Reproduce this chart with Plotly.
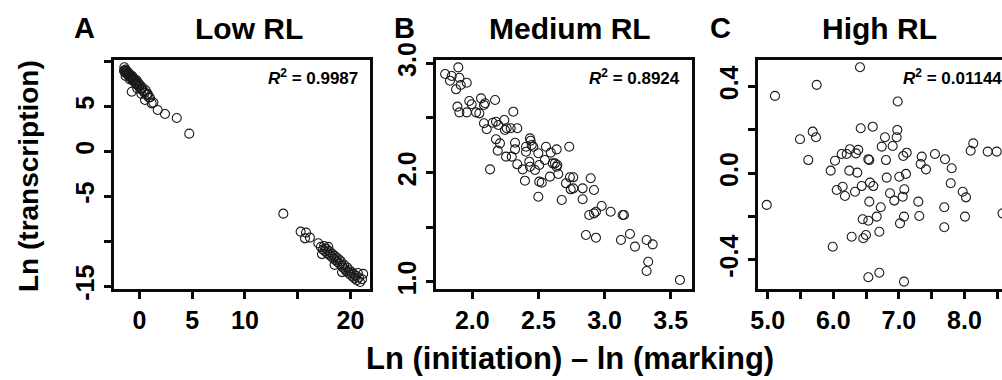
import plotly.graph_objects as go

# ---------------- data ----------------
a_x = [-1.42, -1.45, -1.40, -1.35, -1.30, -1.25, -1.20, -1.15, -1.10, -1.05, -1.00, -0.95, -0.90, -0.85,
       -0.80, -0.75, -0.70, -0.65, -0.60, -0.55, -0.50, -0.45, -0.40, -0.35, -0.30, -0.25, -0.20, -0.10,
       0.00, 0.05, 0.15, 0.20, 0.30, 0.40, 0.50, 0.60, 0.70, 0.80, 0.90, -1.30, -0.90, -0.72, -0.20, 0.20,
       0.54, 0.76, 1.00, 1.17, 1.33, 1.74, 2.43, 3.54, 4.73,
       13.64, 15.28, 15.79, 15.69, 16.16, 16.95, 17.20, 17.40, 17.50, 17.60, 17.70, 17.80, 17.90, 18.00,
       18.10, 18.20, 18.30, 18.40, 18.50, 18.60, 18.70, 18.80, 18.90, 19.00, 19.10, 19.20, 19.30, 19.40,
       19.50, 19.60, 19.70, 19.80, 19.90, 20.00, 20.10, 20.20, 20.30, 20.40, 20.50, 20.60, 20.70, 20.80,
       20.90, 21.10, 21.20, 17.30, 18.50, 19.20, 17.90]
a_y = [9.36, 9.00, 8.90, 8.80, 9.10, 8.70, 8.95, 8.60, 8.80, 8.50, 8.70, 8.40, 8.55, 8.30,
       8.45, 8.20, 8.00, 8.35, 7.90, 8.10, 7.80, 8.00, 7.60, 7.75, 7.50, 7.90, 7.40, 7.60,
       7.20, 7.40, 7.00, 6.90, 7.10, 6.70, 6.50, 6.80, 6.30, 6.40, 6.00, 8.40, 8.00, 6.64, 7.00, 6.40,
       5.72, 6.30, 6.00, 5.35, 5.43, 4.61, 4.17, 3.72, 1.98,
       -6.91, -8.91, -9.02, -9.65, -9.57, -10.20, -10.60, -10.90, -10.50, -11.10, -10.80, -11.30, -11.00, -11.50,
       -11.20, -11.70, -11.40, -11.90, -11.60, -12.10, -11.80, -12.30, -12.00, -12.50, -12.20, -12.70, -12.90, -12.60,
       -13.10, -13.30, -12.90, -13.50, -13.20, -13.70, -13.40, -13.90, -13.60, -14.10, -13.80, -14.30, -13.50, -14.00,
       -14.50, -14.20, -13.60, -11.40, -12.60, -13.40, -10.60]

b_x = [1.794, 1.831, 1.844, 1.894, 1.902, 1.877, 1.912, 1.958, 1.887, 1.902, 1.958, 1.977, 1.995, 2.028,
       2.053, 2.066, 2.088, 2.096, 2.088, 2.109, 2.134, 2.172, 2.154, 2.179, 2.197, 2.179, 2.209, 2.192,
       2.242, 2.247, 2.260, 2.255, 2.298, 2.310, 2.290, 2.340, 2.323, 2.323, 2.340, 2.381, 2.398, 2.406,
       2.406, 2.436, 2.441, 2.449, 2.431, 2.436, 2.461, 2.474, 2.499, 2.499, 2.506, 2.525, 2.506, 2.549,
       2.557, 2.587, 2.593, 2.608, 2.625, 2.638, 2.638, 2.650, 2.643, 2.676, 2.708, 2.733, 2.738, 2.744,
       2.763, 2.763, 2.834, 2.834, 2.859, 2.884, 2.895, 2.920, 2.920, 2.935, 2.935, 2.978, 3.046, 3.124,
       3.137, 3.147, 3.192, 3.230, 3.318, 3.364, 3.330, 3.318, 3.570]
b_y = [2.902, 2.841, 2.884, 2.963, 2.868, 2.762, 2.801, 2.822, 2.603, 2.551, 2.551, 2.655, 2.625, 2.551,
       2.542, 2.679, 2.618, 2.634, 2.451, 2.396, 2.029, 2.664, 2.456, 2.465, 2.435, 2.304, 2.267, 2.200,
       2.481, 2.389, 2.405, 2.145, 2.145, 2.557, 2.405, 2.405, 2.273, 2.212, 2.075, 2.029, 1.925, 2.236,
       2.190, 2.313, 2.291, 2.252, 2.099, 2.053, 2.236, 2.023, 2.176, 1.778, 1.916, 1.907, 2.069, 2.115,
       2.236, 1.962, 2.182, 2.084, 2.084, 2.212, 2.053, 1.986, 2.069, 1.748, 1.901, 2.236, 1.956, 1.846,
       1.956, 1.855, 1.855, 1.755, 1.428, 1.611, 1.947, 1.840, 1.626, 1.641, 1.403, 1.693, 1.641, 1.382,
       1.611, 1.611, 1.437, 1.321, 1.382, 1.342, 1.183, 1.098, 1.016]

c_x = [4.985, 5.111, 5.492, 5.619, 5.686, 5.736, 5.747, 5.960, 5.991, 6.026, 6.052, 6.128, 6.143, 6.178,
       6.204, 6.254, 6.244, 6.280, 6.331, 6.346, 6.366, 6.381, 6.407, 6.418, 6.433, 6.448, 6.457, 6.498,
       6.534, 6.549, 6.549, 6.534, 6.534, 6.559, 6.601, 6.610, 6.662, 6.702, 6.702, 6.723, 6.738, 6.788,
       6.803, 6.814, 6.864, 6.905, 6.930, 6.966, 6.976, 6.982, 7.006, 7.017, 7.058, 7.067, 7.078, 7.083,
       7.078, 7.108, 7.119, 7.296, 7.311, 7.332, 7.348, 7.413, 7.550, 7.692, 7.692, 7.703, 7.790, 7.805,
       7.973, 8.023, 8.008, 8.094, 8.134, 8.354, 8.491, 8.580]
c_y = [-0.146, 0.357, 0.157, 0.061, 0.192, 0.166, 0.408, 0.012, -0.339, 0.058, -0.077, 0.089, -0.062, -0.105,
       0.089, 0.111, 0.012, -0.293, -0.085, 0.092, 0.003, 0.108, 0.489, 0.208, -0.059, -0.212, -0.300, -0.285,
       0.065, 0.061, -0.131, -0.219, -0.480, -0.043, 0.215, -0.059, -0.200, -0.270, -0.459, -0.157, 0.123, 0.166,
       0.061, -0.020, -0.092, 0.126, -0.126, 0.166, 0.200, 0.331, -0.016, -0.231, -0.108, 0.080, -0.500, -0.074,
       -0.200, -0.003, 0.095, -0.131, -0.197, 0.043, 0.077, 0.018, 0.089, -0.157, -0.249, 0.065, -0.046, 0.023,
       -0.085, -0.111, -0.200, 0.104, 0.138, 0.100, 0.100, -0.185]

titles = ["Low RL", "Medium RL", "High RL"]
letters = ["A", "B", "C"]
r2_texts = ["0.9987", "0.8924", "0.01144"]

a_xticks = [0, 5, 10, 15, 20]
a_xlabels = ["0", "5", "10", "", "20"]
a_yticks = [-15, -10, -5, 0, 5, 10]
a_ylabels = ["-15", "", "-5", "0", "5", ""]
b_xticks = [2.0, 2.5, 3.0, 3.5]
b_xlabels = ["2.0", "2.5", "3.0", "3.5"]
b_yticks = [1.0, 1.5, 2.0, 2.5, 3.0]
b_ylabels = ["1.0", "", "2.0", "", "3.0"]
c_xticks = [5.0, 5.5, 6.0, 6.5, 7.0, 7.5, 8.0, 8.5]
c_xlabels = ["5.0", "", "6.0", "", "7.0", "", "8.0", ""]
c_yticks = [-0.4, -0.2, 0.0, 0.2, 0.4]
c_ylabels = ["-0.4", "", "0.0", "", "0.4"]

# ---------------- figure ----------------
W, H = 1002, 380
FONT = "Liberation Sans, Arial, Helvetica, sans-serif"
INK = "#0a0a0a"


def px(v):
    return v / W


def py(v):
    return 1 - v / H


ydom = [py(289), py(59.5)]
xdoms = [[px(114), px(370)], [px(435.7), px(691.7)], [px(758), 1.0]]
xr = [[-2.40, 21.85], [1.723, 3.659], [4.852, 8.572]]
yr = [[-15.28, 10.22], [0.933, 3.035], [-0.534, 0.525]]

marker = dict(symbol="circle-open", size=9, color="#1a1a1a", line=dict(width=1.1, color="#1a1a1a"))

fig = go.Figure()
for i, (xs, ys) in enumerate([(a_x, a_y), (b_x, b_y), (c_x, c_y)]):
    sfx = "" if i == 0 else str(i + 1)
    fig.add_trace(go.Scatter(x=xs, y=ys, mode="markers", marker=marker,
                             xaxis="x" + sfx, yaxis="y" + sfx, hoverinfo="skip"))


def axis(domain, rng, tv, tt, anchor, mirror=True, angle=0):
    return dict(domain=domain, range=rng, tickmode="array", tickvals=tv, ticktext=tt,
                ticks="outside", ticklen=7, tickwidth=2.5, tickcolor=INK,
                showline=True, linewidth=2.5, linecolor=INK, mirror=mirror,
                showgrid=False, zeroline=False, anchor=anchor, fixedrange=True,
                automargin=False, tickangle=angle,
                tickfont=dict(family=FONT, size=25, color="black", weight="bold"))


layout = dict(
    template="none",
    width=W, height=H, margin=dict(l=0, r=0, t=0, b=0, pad=0, autoexpand=False),
    plot_bgcolor="white", paper_bgcolor="white", showlegend=False,
    xaxis=axis(xdoms[0], xr[0], a_xticks, a_xlabels, "y"),
    yaxis=axis(ydom, yr[0], a_yticks, a_ylabels, "x", angle=-90),
    xaxis2=axis(xdoms[1], xr[1], b_xticks, b_xlabels, "y2"),
    yaxis2=axis(ydom, yr[1], b_yticks, b_ylabels, "x2", angle=-90),
    xaxis3=axis(xdoms[2], xr[2], c_xticks, c_xlabels, "y3"),
    yaxis3=axis(ydom, yr[2], c_yticks, c_ylabels, "x3", mirror=False, angle=-90),
)
fig.update_layout(**layout)

ann = []
title_x = [249, 570, 879]
letter_x = [84, 404, 720]
r2_right = [360, 682, 1004]
for i in range(3):
    ann.append(dict(text=titles[i], x=px(title_x[i]), y=py(28), xref="paper", yref="paper",
                    xanchor="center", yanchor="middle", showarrow=False,
                    font=dict(family=FONT, size=30, color="black", weight="bold")))
    ann.append(dict(text=letters[i], x=px(letter_x[i]), y=py(28), xref="paper", yref="paper",
                    xanchor="center", yanchor="middle", showarrow=False,
                    font=dict(family=FONT, size=29, color="black", weight="bold")))
    ann.append(dict(text="<i>R</i><sup>2</sup> = " + r2_texts[i], x=px(r2_right[i]), y=py(77),
                    xref="paper", yref="paper", xanchor="right", yanchor="middle", showarrow=False,
                    font=dict(family=FONT, size=17, color="black", weight="bold")))

ann.append(dict(text="Ln (transcription)", x=px(28), y=py(176), xref="paper", yref="paper",
                xanchor="center", yanchor="middle", textangle=-90, showarrow=False,
                font=dict(family=FONT, size=28, color="black", weight="bold")))
ann.append(dict(text="Ln (initiation) \u2013 ln (marking)", x=px(570), y=py(358), xref="paper", yref="paper",
                xanchor="center", yanchor="middle", showarrow=False,
                font=dict(family=FONT, size=31, color="black", weight="bold")))
fig.update_layout(annotations=ann)

fig.write_html("out.html")
